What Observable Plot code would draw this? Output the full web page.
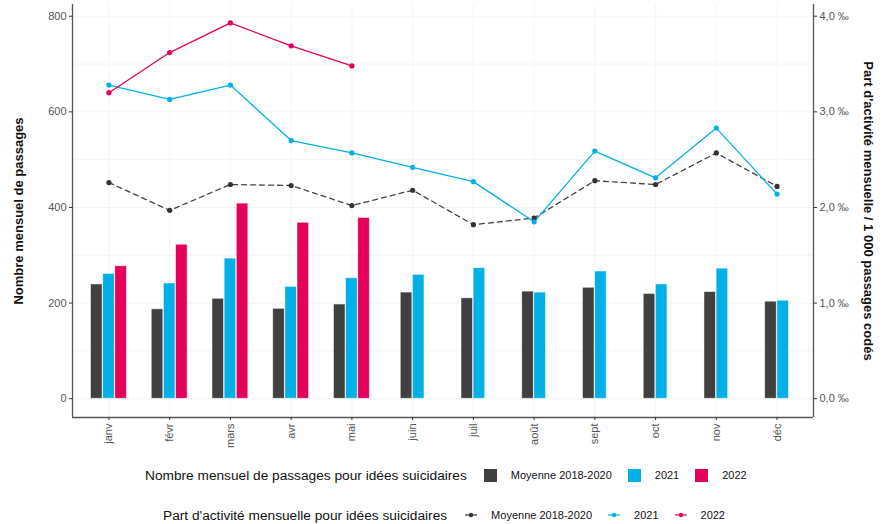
<!DOCTYPE html>
<html>
<head>
<meta charset="utf-8">
<script src="https://cdn.jsdelivr.net/npm/d3@7"></script>
<script src="https://cdn.jsdelivr.net/npm/@observablehq/plot@0.6"></script>
<style>
  body { margin: 0; background: #fff; font-family: "Liberation Sans", Arial, sans-serif; }
  #chart { width: 885px; }
  .legrow { display: flex; align-items: center; height: 20px; white-space: nowrap; color: #111; }
  .legrow .title { font-size: 13.7px; }
  .legrow .lab { font-size: 11px; }
  .sw { width: 13px; height: 13px; display: inline-block; }
  .sym { display: inline-block; }
</style>
</head>
<body>
<div id="chart"></div>
<script>
const months = ["janv","févr","mars","avr","mai","juin","juil","août","sept","oct","nov","déc"];
const seriesNames = ["Moyenne 2018-2020","2021","2022"];
const seriesColors = ["#404040","#00b0e6","#e5005a"];
// Nombre mensuel de passages
const barMoy  = [239,187,209,188,197,222,210,224,232,219,223,203];
const bar2021 = [261,241,293,234,252,259,273,222,266,239,272,205];
const bar2022 = [277,322,408,368,378];
// Part d'activité (‰)
const partMoy  = [2.26,1.97,2.24,2.23,2.02,2.18,1.82,1.89,2.28,2.24,2.57,2.22];
const part2021 = [3.28,3.13,3.28,2.70,2.57,2.42,2.27,1.85,2.59,2.31,2.83,2.14];
const part2022 = [3.20,3.62,3.93,3.69,3.48];
const leftTicks = [0,200,400,600,800];
const gridTicks = [0,100,200,300,400,500,600,700,800];
const ratio = 200; // 800 passages <-> 4,0 ‰

const yDomain = [-39.25, 824.5];
const xDomain = [0.4, 12.6];

const barSeries = [barMoy, bar2021, bar2022];
const bars = [];
months.forEach((m, i) => {
  const present = barSeries.map((s, k) => ({k, v: s[i]})).filter(d => d.v != null);
  const n = present.length;
  present.forEach((d, j) => {
    const c = (i + 1) + (j - (n - 1) / 2) * 0.2;
    bars.push({month: m, series: seriesNames[d.k], x1: c - 0.095, x2: c + 0.095, v: d.v});
  });
});
const partSeries = [partMoy, part2021, part2022];
const lines = partSeries.map((s, k) => s.map((v, i) => ({i: i + 1, v: v * ratio, series: seriesNames[k]})));

const plot = Plot.plot({
  width: 885,
  height: 460,
  marginLeft: 72,
  marginRight: 72,
  marginTop: 4,
  marginBottom: 43,
  style: {fontFamily: "Liberation Sans, Arial, sans-serif", fontSize: "11px", color: "#555", background: "#fff"},
  x: {type: "linear", domain: xDomain, axis: null},
  y: {domain: yDomain, axis: null},
  color: {domain: seriesNames, range: seriesColors},
  marks: [
    Plot.ruleY(gridTicks, {stroke: "#f1f1f1", strokeWidth: 0.8}),
    Plot.ruleX(d3.range(1, 13), {stroke: "#f1f1f1", strokeWidth: 0.8}),
    Plot.rectY(bars, {x1: "x1", x2: "x2", y1: 0, y2: "v", fill: "series", stroke: "#ffffff", strokeOpacity: 0.6, strokeWidth: 0.8}),
    Plot.line(lines[0], {x: "i", y: "v", stroke: "#444", strokeWidth: 1.3, strokeDasharray: "5,4"}),
    Plot.line(lines[1], {x: "i", y: "v", stroke: seriesColors[1], strokeWidth: 1.3}),
    Plot.line(lines[2], {x: "i", y: "v", stroke: seriesColors[2], strokeWidth: 1.3}),
    Plot.dot(lines.flat(), {x: "i", y: "v", fill: d => d.series === seriesNames[0] ? "#333" : d.series === seriesNames[1] ? seriesColors[1] : seriesColors[2], r: 2.6, stroke: "none"}),
    Plot.ruleX(xDomain, {stroke: "#555", strokeWidth: 1.3}),
    Plot.ruleY([yDomain[0]], {stroke: "#555", strokeWidth: 1.3}),
    Plot.axisY({anchor: "left", ticks: leftTicks, tickSize: 3, tickPadding: 3, label: null, stroke: "#333", fontSize: 11}),
    Plot.axisY({anchor: "right", ticks: leftTicks, tickSize: 3, tickPadding: 3, label: null,
      tickFormat: d => (d / ratio).toFixed(1).replace(".", ",") + " ‰", stroke: "#333", fontSize: 11}),
    Plot.axisX({anchor: "bottom", ticks: d3.range(1, 13), tickFormat: d => months[d - 1], tickRotate: -90,
      tickSize: 3, tickPadding: 3, label: null, stroke: "#333", fontSize: 11}),
    Plot.text(["Nombre mensuel de passages"], {frameAnchor: "left", dx: -54, rotate: -90, textAnchor: "middle", fontSize: 13, fontWeight: "bold", fill: "#111"}),
    Plot.text(["Part d'activité mensuelle / 1 000 passages codés"], {frameAnchor: "right", dx: 55, rotate: 90, textAnchor: "middle", fontSize: 13, fontWeight: "bold", fill: "#111"})
  ]
});
document.getElementById("chart").appendChild(plot);

// Legends
function legendBars() {
  const row = document.createElement("div");
  row.className = "legrow";
  row.style.paddingLeft = "145px";
  row.style.marginTop = "5px";
  row.innerHTML = `<span class="title">Nombre mensuel de passages pour idées suicidaires</span>` +
    seriesNames.map((s, k) => `<span class="sw" style="background:${seriesColors[k]};margin-left:${k === 0 ? 17 : 16}px"></span><span class="lab" style="margin-left:14px">${s}</span>`).join("");
  return row;
}
function legendLines() {
  const row = document.createElement("div");
  row.className = "legrow";
  row.style.paddingLeft = "163px";
  row.style.marginTop = "20px";
  const cols = ["#333", seriesColors[1], seriesColors[2]];
  row.innerHTML = `<span class="title">Part d'activité mensuelle pour idées suicidaires</span>` +
    seriesNames.map((s, k) => `<svg class="sym" width="12" height="8" style="margin-left:${k === 0 ? 18 : 16}px"><line x1="0" y1="4" x2="12" y2="4" stroke="${cols[k]}" stroke-width="1.2"/><circle cx="6" cy="4" r="2.2" fill="${cols[k]}"/></svg><span class="lab" style="margin-left:14px">${s}</span>`).join("");
  return row;
}
document.body.appendChild(legendBars());
document.body.appendChild(legendLines());
</script>
</body>
</html>
